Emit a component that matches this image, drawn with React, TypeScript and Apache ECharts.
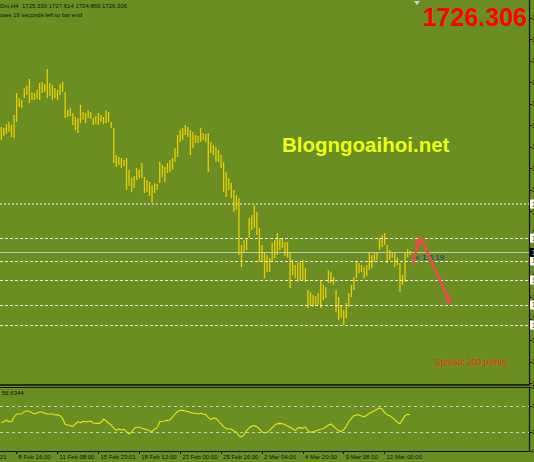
import React, { useEffect, useRef } from "react";
import * as echarts from "echarts";

// ---------- data ----------
const highs = [
  1814.0, 1813.3, 1816.0, 1817.4, 1815.3, 1822.3, 1837.7, 1834.2, 1832.8, 1841.2,
  1842.6, 1847.4, 1838.4, 1837.7, 1839.8, 1844.6, 1845.3, 1843.9, 1854.4, 1844.6,
  1843.2, 1841.2, 1839.8, 1843.9, 1845.3, 1838.4, 1825.8, 1827.2, 1823.7, 1820.9,
  1820.2, 1829.3, 1824.4, 1823.7, 1825.8, 1824.4, 1820.2, 1821.6, 1823.7, 1822.3,
  1820.9, 1825.8, 1824.4, 1817.4, 1813.3, 1794.4, 1793.0, 1792.3, 1790.9, 1792.3,
  1784.0, 1778.4, 1779.8, 1785.3, 1784.0, 1788.8, 1779.1, 1777.0, 1775.6, 1773.5,
  1774.9, 1774.2, 1789.5, 1787.4, 1786.0, 1788.8, 1790.9, 1792.3, 1799.3, 1808.4,
  1811.9, 1813.3, 1815.3, 1814.0, 1811.9, 1810.5, 1808.4, 1807.7, 1813.3, 1809.8,
  1809.1, 1809.8, 1803.5, 1801.4, 1800.0, 1797.9, 1794.4, 1789.5, 1782.6, 1778.4,
  1774.9, 1770.0, 1766.5, 1764.4, 1731.6, 1735.1, 1736.5, 1750.5, 1752.6, 1759.5,
  1754.6, 1743.5, 1731.6, 1726.7, 1724.6, 1722.6, 1733.0, 1735.1, 1740.0, 1736.5,
  1736.5, 1733.7, 1733.7, 1726.7, 1721.2, 1717.7, 1719.1, 1719.8, 1721.2, 1715.6,
  1700.2, 1698.8, 1696.7, 1696.0, 1698.1, 1707.2, 1703.7, 1702.3, 1714.2, 1712.8,
  1709.3, 1700.2, 1695.3, 1689.8, 1686.3, 1691.2, 1698.1, 1703.7, 1709.3, 1719.8,
  1719.1, 1717.7, 1716.3, 1717.7, 1726.0, 1724.6, 1726.7, 1726.0, 1736.5, 1738.6,
  1740.0, 1731.6, 1728.1, 1726.7, 1726.0, 1722.6, 1719.1, 1710.7, 1726.0, 1728.8,
  1727.6,
];

const lows = [
  1804.9, 1807.7, 1809.1, 1810.5, 1807.0, 1806.3, 1817.4, 1827.9, 1827.2, 1834.2,
  1836.3, 1830.7, 1832.8, 1832.8, 1833.5, 1832.8, 1837.7, 1838.4, 1834.2, 1835.6,
  1832.8, 1834.2, 1832.8, 1836.3, 1838.4, 1820.2, 1820.9, 1821.6, 1815.3, 1811.9,
  1809.8, 1816.7, 1818.8, 1816.7, 1820.2, 1819.5, 1815.3, 1816.0, 1815.3, 1817.4,
  1816.0, 1816.7, 1817.4, 1813.3, 1788.8, 1786.0, 1787.4, 1785.3, 1786.7, 1770.0,
  1772.8, 1768.6, 1771.4, 1777.0, 1778.4, 1778.4, 1767.9, 1768.6, 1765.8, 1760.9,
  1767.9, 1770.0, 1774.9, 1779.1, 1775.6, 1781.9, 1782.6, 1784.0, 1789.5, 1793.0,
  1803.5, 1804.9, 1808.4, 1807.0, 1794.4, 1799.3, 1802.8, 1802.8, 1803.5, 1804.9,
  1803.5, 1782.6, 1795.8, 1794.4, 1789.5, 1789.5, 1785.3, 1768.6, 1765.1, 1770.0,
  1764.4, 1754.6, 1756.0, 1724.6, 1716.3, 1726.7, 1728.1, 1736.5, 1742.1, 1743.5,
  1738.6, 1719.8, 1719.8, 1708.6, 1712.8, 1712.8, 1719.8, 1722.6, 1724.6, 1728.1,
  1729.5, 1723.9, 1722.6, 1701.6, 1710.7, 1708.6, 1705.8, 1707.2, 1707.2, 1705.8,
  1687.7, 1689.1, 1688.4, 1689.8, 1689.8, 1687.7, 1693.2, 1694.6, 1705.1, 1705.1,
  1703.7, 1684.9, 1679.3, 1680.7, 1675.8, 1680.7, 1688.4, 1695.3, 1700.2, 1708.6,
  1712.1, 1712.8, 1708.6, 1710.0, 1714.2, 1715.6, 1719.8, 1721.2, 1728.1, 1730.2,
  1731.6, 1719.1, 1721.2, 1722.6, 1716.3, 1717.7, 1698.8, 1703.7, 1705.8, 1723.3,
  1724.9,
];

const rsi = [
  44.3, 45.8, 48.4, 45.8, 45.8, 53.1, 57.8, 57.8, 58.3, 61.5,
  63.0, 62.0, 59.9, 57.8, 59.4, 61.0, 61.0, 58.9, 57.8, 57.8,
  57.8, 56.3, 56.8, 55.2, 51.0, 41.7, 40.6, 39.6, 38.5, 42.2,
  45.8, 44.3, 46.4, 45.8, 45.8, 46.9, 43.7, 43.2, 43.2, 44.3,
  50.0, 46.9, 43.7, 40.6, 35.4, 32.3, 34.4, 32.8, 33.9, 30.2,
  26.6, 29.7, 35.4, 37.0, 37.0, 35.4, 34.4, 33.3, 31.8, 30.2,
  34.4, 36.5, 45.8, 46.4, 46.9, 47.9, 48.4, 53.1, 57.8, 62.0,
  63.5, 63.5, 62.5, 61.5, 60.4, 58.9, 58.9, 57.8, 58.9, 57.8,
  56.8, 52.6, 49.0, 51.6, 51.0, 46.9, 42.2, 38.0, 34.9, 34.4,
  34.4, 31.3, 29.7, 24.0, 21.9, 25.5, 31.8, 35.9, 39.1, 39.6,
  38.0, 34.4, 30.2, 28.1, 29.2, 32.3, 36.5, 40.6, 42.7, 43.2,
  42.7, 41.2, 39.1, 37.0, 34.9, 31.8, 35.9, 36.5, 35.4, 37.5,
  31.8, 29.2, 30.2, 31.3, 32.8, 33.9, 34.9, 37.5, 40.6, 42.2,
  38.5, 34.9, 31.8, 30.7, 33.3, 38.5, 45.8, 51.0, 55.2, 56.8,
  56.3, 54.7, 53.6, 55.7, 58.9, 61.0, 63.0, 65.1, 67.2, 65.6,
  59.9, 56.8, 55.2, 52.1, 49.0, 44.8, 42.7, 49.0, 55.2, 57.3,
  56.63,
];

const timeLabels = [
  "8 Feb 16:00", "11 Feb 08:00", "15 Feb 23:01", "18 Feb 12:00", "23 Feb 00:00",
  "25 Feb 16:00", "2 Mar 04:00", "4 Mar 20:00", "9 Mar 08:00", "12 Mar 00:00",
];
const timeLabelBars = [6, 22, 38, 54, 70, 86, 102, 118, 134, 150];
const firstDateLabel = "5 Feb 2021";

const priceTicks = [
  1635, 1650, 1665, 1680, 1695, 1710, 1725, 1740, 1755, 1770,
  1785, 1800, 1815, 1830, 1845, 1860, 1875, 1890,
];
const rsiTicks = [0, 30, 70, 100];
const rsiLevels = [70, 30];
const levelPrices = [1760.2, 1736.5, 1720.5, 1707.2, 1689.8, 1675.8];
const bidPrice = 1726.306;
const ohlcText = "Dm,H4  1725.330 1727.614 1724.869 1726.306";
const timerText = "utes 19 seconds left to bar end";
const rsiValueText = "56.6344";
const bigPriceText = "1726.306";
const spreadText = "Spread: 200 points.";
const countdownText = "< 1:5:19";
const brandText = "Blogngoaihoi.net";

// ---------- layout / style ----------
const SLOTS = 207;
const PRICE_MIN = 1633.95;
const PRICE_MAX = 1902.55;
const BG = "#6b8e23";
const BAR = "#ecce00";
const FONT = '"Liberation Sans", Arial, Helvetica, sans-serif';
const ARROW = "#f04a4a";

const slots = Array.from({ length: SLOTS }, (_, i) => String(i));
const isLabelBar = (i: number) => timeLabelBars.indexOf(i) >= 0;

function buildOption() {
  const levelLines: any[] = levelPrices.map((v, k) => ({
    yAxis: v,
    lineStyle:
      k === 0
        ? { type: [2, 2], width: 1.6, color: "#cdd2bd" }
        : { type: [3, 2], width: 1, color: "#eef0e2" },
    label: {
      show: true,
      position: "end",
      distance: 1,
      formatter: () => v.toFixed(2),
      backgroundColor: "#ffffff",
      color: "#000",
      fontSize: 7,
      fontFamily: FONT,
      padding: [1, 2],
    },
  }));
  levelLines.push({
    yAxis: bidPrice,
    lineStyle: { type: "solid", width: 1, color: "#c4c6c0" },
    label: {
      show: true,
      position: "end",
      distance: 1,
      formatter: () => bidPrice.toFixed(3),
      backgroundColor: "#000",
      color: "#fff",
      fontSize: 7,
      fontFamily: FONT,
      padding: [1, 2],
    },
  });

  const arrowA = { s: [412.5, 265], b: [417.75, 244.7], l: [421.6, 245.7], r: [413.9, 243.7], t: [420, 236] };
  const arrowB = { s: [421, 238], b: [447.3, 296.8], l: [450.95, 295.2], r: [443.65, 298.4], t: [451, 305] };

  return {
    animation: false,
    backgroundColor: BG,
    textStyle: { fontFamily: FONT },
    grid: [
      { left: 0, right: 5, top: 0, height: 385, containLabel: false, outerBoundsMode: "none" },
      { left: 0, right: 5, top: 387, height: 64, containLabel: false, outerBoundsMode: "none" },
    ],
    xAxis: [
      {
        gridIndex: 0,
        type: "category",
        data: slots,
        boundaryGap: true,
        axisLine: { show: true, lineStyle: { color: "#111", width: 1.5 } },
        axisTick: { show: false },
        axisLabel: { show: false },
        splitLine: { show: false },
      },
      {
        gridIndex: 1,
        type: "category",
        data: slots,
        boundaryGap: true,
        axisLine: { show: true, lineStyle: { color: "#111", width: 1.2 } },
        axisTick: {
          show: true,
          alignWithLabel: true,
          interval: (i: number) => isLabelBar(i),
          length: 3,
          lineStyle: { color: "#111" },
        },
        axisLabel: {
          show: true,
          interval: (i: number) => isLabelBar(i),
          formatter: (v: string) => {
            const k = timeLabelBars.indexOf(Number(v));
            return k >= 0 ? timeLabels[k] : "";
          },
          align: "left",
          padding: [0, 0, 0, 2],
          margin: 3,
          fontSize: 6,
          color: "#111",
          fontFamily: FONT,
        },
        splitLine: { show: false },
      },
      {
        gridIndex: 1,
        type: "category",
        position: "top",
        data: slots,
        axisLine: { show: true, lineStyle: { color: "#111", width: 1.2 } },
        axisTick: { show: false },
        axisLabel: { show: false },
        splitLine: { show: false },
      },
    ],
    yAxis: [
      {
        gridIndex: 0,
        type: "value",
        position: "right",
        min: PRICE_MIN,
        max: PRICE_MAX,
        axisLine: { show: true, lineStyle: { color: "#111", width: 1.2 } },
        axisTick: { show: true, length: 3, customValues: priceTicks, lineStyle: { color: "#111" } },
        axisLabel: {
          show: true,
          customValues: priceTicks,
          margin: 3,
          fontSize: 7,
          color: "#000",
          fontFamily: FONT,
          formatter: (v: number) => v.toFixed(2),
        },
        splitLine: { show: false },
      },
      {
        gridIndex: 1,
        type: "value",
        position: "right",
        min: 0,
        max: 100,
        axisLine: { show: true, lineStyle: { color: "#111", width: 1.2 } },
        axisTick: { show: true, length: 3, customValues: rsiTicks, lineStyle: { color: "#111" } },
        axisLabel: {
          show: true,
          customValues: rsiTicks,
          margin: 3,
          fontSize: 6,
          color: "#000",
          fontFamily: FONT,
        },
        splitLine: { show: false },
      },
    ],
    series: [
      {
        type: "line",
        xAxisIndex: 0,
        yAxisIndex: 0,
        data: [],
        silent: true,
        markLine: {
          silent: true,
          symbol: ["none", "none"],
          data: levelLines,
        },
      },
      {
        type: "custom",
        xAxisIndex: 0,
        yAxisIndex: 0,
        silent: true,
        encode: { x: 0, y: [1, 2] },
        data: highs.map((h, i) => [i, lows[i], h]),
        renderItem: (_params: any, api: any) => {
          const i = api.value(0);
          const p1 = api.coord([i, api.value(1)]);
          const p2 = api.coord([i, api.value(2)]);
          return {
            type: "line",
            shape: { x1: p1[0], y1: p1[1], x2: p2[0], y2: p2[1] },
            style: { stroke: BAR, lineWidth: 1.3 },
          };
        },
        z: 3,
      },
      {
        type: "line",
        xAxisIndex: 1,
        yAxisIndex: 1,
        data: rsi,
        symbol: "none",
        silent: true,
        lineStyle: { color: "#e8e814", width: 1.1 },
        markLine: {
          silent: true,
          symbol: ["none", "none"],
          label: { show: false },
          lineStyle: { type: [3, 3], color: "#c9cdb6", width: 1 },
          data: rsiLevels.map((v) => ({ yAxis: v })),
        },
      },
    ],
    graphic: [
      {
        type: "text",
        x: 0,
        y: 6.2,
        style: { text: ohlcText, fill: "#111", fontSize: 6, fontFamily: FONT, verticalAlign: "middle" },
      },
      {
        type: "text",
        x: 0,
        y: 15.3,
        style: { text: timerText, fill: "#111", fontSize: 6, fontFamily: FONT, verticalAlign: "middle" },
      },
      {
        type: "polygon",
        shape: { points: [[414, 1], [420, 1], [417, 5]] },
        style: { fill: "#d4d4d4" },
      },
      {
        type: "text",
        x: 527,
        y: 16.8,
        style: {
          text: bigPriceText,
          fill: "#ff0000",
          fontSize: 25,
          fontWeight: "bold",
          fontFamily: FONT,
          align: "right",
          verticalAlign: "middle",
        },
      },
      {
        type: "text",
        x: 282,
        y: 144,
        style: {
          text: brandText,
          fill: "#eaff14",
          fontSize: 20.5,
          fontWeight: "bold",
          fontFamily: FONT,
          verticalAlign: "middle",
          shadowColor: "rgba(40,50,0,0.75)",
          shadowBlur: 2,
          shadowOffsetX: 1.5,
          shadowOffsetY: 1.5,
        },
      },
      {
        type: "text",
        x: 435,
        y: 361.7,
        style: { text: spreadText, fill: "#f42c12", fontSize: 8.5, fontFamily: FONT, verticalAlign: "middle" },
      },
      {
        type: "text",
        x: 415,
        y: 257.6,
        style: { text: countdownText, fill: "#1e2d9c", fontSize: 8, fontFamily: FONT, verticalAlign: "middle" },
      },
      {
        type: "text",
        x: 2,
        y: 392.7,
        style: { text: rsiValueText, fill: "#111", fontSize: 6, fontFamily: FONT, verticalAlign: "middle" },
      },
      {
        type: "text",
        x: 6.5,
        y: 456.7,
        style: { text: firstDateLabel, fill: "#111", fontSize: 6, fontFamily: FONT, align: "right", verticalAlign: "middle" },
      },
      {
        type: "line",
        shape: { x1: arrowA.s[0], y1: arrowA.s[1], x2: arrowA.b[0], y2: arrowA.b[1] },
        style: { stroke: ARROW, lineWidth: 2.6 },
        z: 10,
      },
      {
        type: "polygon",
        shape: { points: [arrowA.t, arrowA.l, arrowA.r] },
        style: { fill: ARROW },
        z: 10,
      },
      {
        type: "line",
        shape: { x1: arrowB.s[0], y1: arrowB.s[1], x2: arrowB.b[0], y2: arrowB.b[1] },
        style: { stroke: ARROW, lineWidth: 2.6 },
        z: 10,
      },
      {
        type: "polygon",
        shape: { points: [arrowB.t, arrowB.l, arrowB.r] },
        style: { fill: ARROW },
        z: 10,
      },
    ],
  };
}

export default function App() {
  const ref = useRef<HTMLDivElement>(null);
  useEffect(() => {
    document.body.style.margin = "0";
    const chart = echarts.init(ref.current as HTMLDivElement, null, { renderer: "svg" });
    chart.setOption(buildOption() as any);
    return () => chart.dispose();
  }, []);
  return <div ref={ref} style={{ width: 534, height: 462, overflow: "hidden" }} />;
}
